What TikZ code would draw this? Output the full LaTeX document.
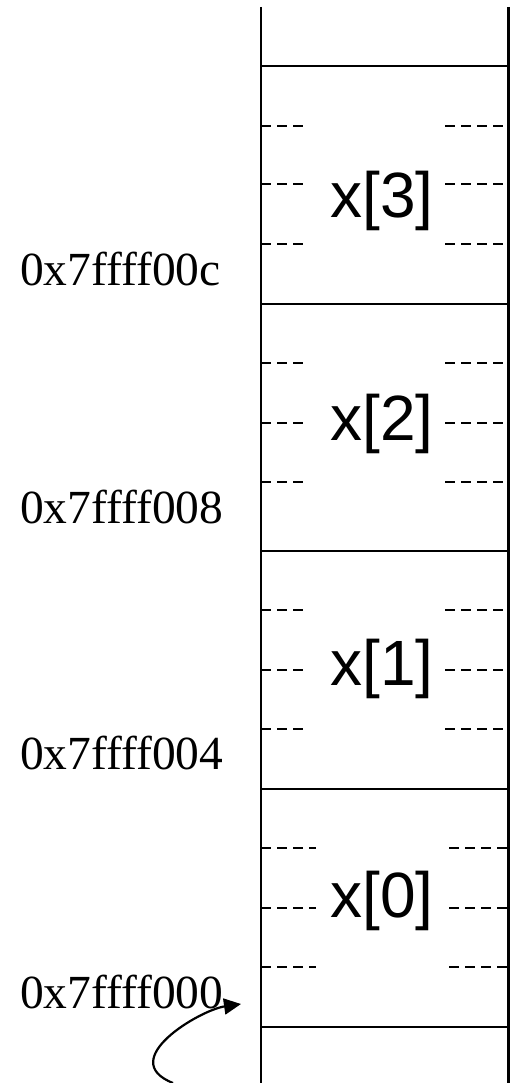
\documentclass[tikz,border=0pt]{standalone}
\usepackage{fontspec}
\setmainfont{Liberation Serif}
\newfontfamily\cellfont{Liberation Sans}
\usetikzlibrary{arrows.meta}
\begin{document}
\begin{tikzpicture}[x=1pt,y=-1pt,
  wall/.style={line width=2.2pt,line cap=butt},
  tick/.style={line width=2.2pt,dash pattern=on 10pt off 6pt},
  cell/.style={font=\cellfont\fontsize{64}{70}\selectfont,inner sep=0pt,anchor=base},
  addr/.style={font=\fontsize{47.5}{52}\selectfont,inner sep=0pt,anchor=base west}]
\useasboundingbox (0,0) rectangle (510,1083);
% column walls
\coordinate (tl) at (261,7);
\coordinate (bl) at (261,1083);
\coordinate (tr) at (508.5,7);
\coordinate (br) at (508.5,1083);
\draw[wall] (tl) -- (bl);
\draw[wall] (tr) -- (br);
% cell boundaries
\foreach \y/\n in {66/a,304/b,551/c,789/d,1027/e}{
  \coordinate (h\n l) at (261,\y);
  \coordinate (h\n r) at (508.5,\y);
  \draw[wall] (h\n l) -- (h\n r);
}
% byte dashes
\foreach \y in {126,184,244,363,423,482,610,670,729}{
  \draw[tick] (261,\y) -- (307,\y);
  \draw[tick] (445,\y) -- (508.5,\y);
}
\foreach \y in {848,908,967}{
  \draw[tick] (261,\y) -- (316,\y);
  \draw[tick] (449,\y) -- (508.5,\y);
}
% cell labels
\node[cell] (x3) at (382,218) {x[3]};
\node[cell] (x2) at (382,440) {x[2]};
\node[cell] (x1) at (382,685) {x[1]};
\node[cell] (x0) at (382,917) {x[0]};
% addresses
\node[addr] (a3) at (20,285) {0x7ffff00c};
\node[addr] (a2) at (20,523) {0x7ffff008};
\node[addr] (a1) at (20,769) {0x7ffff004};
\node[addr] (a0) at (20,1008) {0x7ffff000};
% pointer arrow
\coordinate (ptrstart) at (173,1083);
\coordinate (ptrtip) at (241,1004);
\draw[line width=2.2pt,-{Triangle[length=17pt,width=16pt]}] (ptrstart) .. controls (115,1060) and (200,1010) .. (ptrtip);
\end{tikzpicture}
\end{document}
